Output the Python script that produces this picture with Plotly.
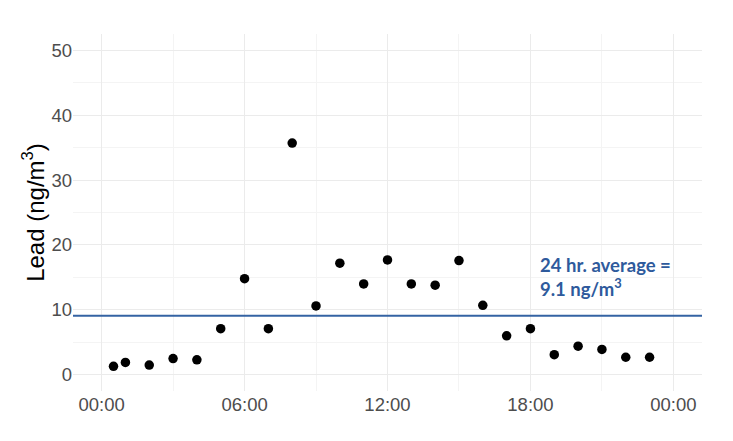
import plotly.graph_objects as go
import pandas as pd

# Data
times = ["00:30", "01:00", "02:00", "03:00", "04:00", "05:00", "06:00", "07:00",
         "08:00", "09:00", "10:00", "11:00", "12:00", "13:00", "14:00", "15:00",
         "16:00", "17:00", "18:00", "19:00", "20:00", "21:00", "22:00", "23:00"]
lead = [1.3, 1.9, 1.5, 2.5, 2.3, 7.1, 14.8, 7.1,
        35.7, 10.6, 17.2, 14.0, 17.7, 14.0, 13.8, 17.6,
        10.7, 6.0, 7.1, 3.1, 4.4, 3.9, 2.7, 2.7]
average = 9.1
day = "2020-01-01"
x_tick_vals = ["2020-01-01 00:00", "2020-01-01 06:00", "2020-01-01 12:00",
               "2020-01-01 18:00", "2020-01-02 00:00"]
x_tick_text = ["00:00", "06:00", "12:00", "18:00", "00:00"]
y_tick_vals = [0, 10, 20, 30, 40, 50]

x = pd.to_datetime([f"{day} {t}" for t in times])
start = pd.Timestamp(f"{day} 00:00")
end = start + pd.Timedelta(hours=24)
pad = pd.Timedelta(hours=1.2)

fig = go.Figure()
fig.add_trace(go.Scatter(
    x=x, y=lead, mode="markers",
    marker=dict(color="black", size=9.5),
    showlegend=False, hoverinfo="skip",
))
fig.add_hline(y=average, line=dict(color="#3463a3", width=2))
fig.add_annotation(
    x=start + pd.Timedelta(hours=18.3), y=average + 5.9,
    xref="x", yref="y", xanchor="left", yanchor="middle", align="left",
    text="<b>24 hr. average =<br>9.1 ng/m<sup>3</sup></b>",
    showarrow=False,
    font=dict(family="Lato", size=18.5, color="#2e5a9c"),
)

grid = "#ebebeb"
fig.update_layout(
    width=733, height=441,
    margin=dict(l=65, r=39, t=26, b=58),
    paper_bgcolor="white", plot_bgcolor="white",
    font=dict(family="Liberation Sans", color="#4d4d4d", size=18.5),
    xaxis=dict(
        range=[start - pad, end + pad],
        tickvals=x_tick_vals, ticktext=x_tick_text,
        showgrid=True, gridcolor=grid, gridwidth=1.2,
        zeroline=False, showline=False, ticks="",
        minor=dict(dtick=3 * 3600 * 1000, tick0=f"{day} 03:00",
                   showgrid=True, gridcolor="#f4f4f4", gridwidth=0.8),
    ),
    yaxis=dict(
        range=[-2.5, 52.5],
        tickvals=y_tick_vals,
        showgrid=True, gridcolor=grid, gridwidth=1.2,
        zeroline=False, showline=False, ticks="",
        minor=dict(dtick=10, tick0=5, showgrid=True,
                   gridcolor="#f4f4f4", gridwidth=0.8),
        title=dict(text="Lead (ng/m<sup>3</sup>)",
                   font=dict(size=24, color="black"), standoff=0),
    ),
)

fig.write_html("out.html")
